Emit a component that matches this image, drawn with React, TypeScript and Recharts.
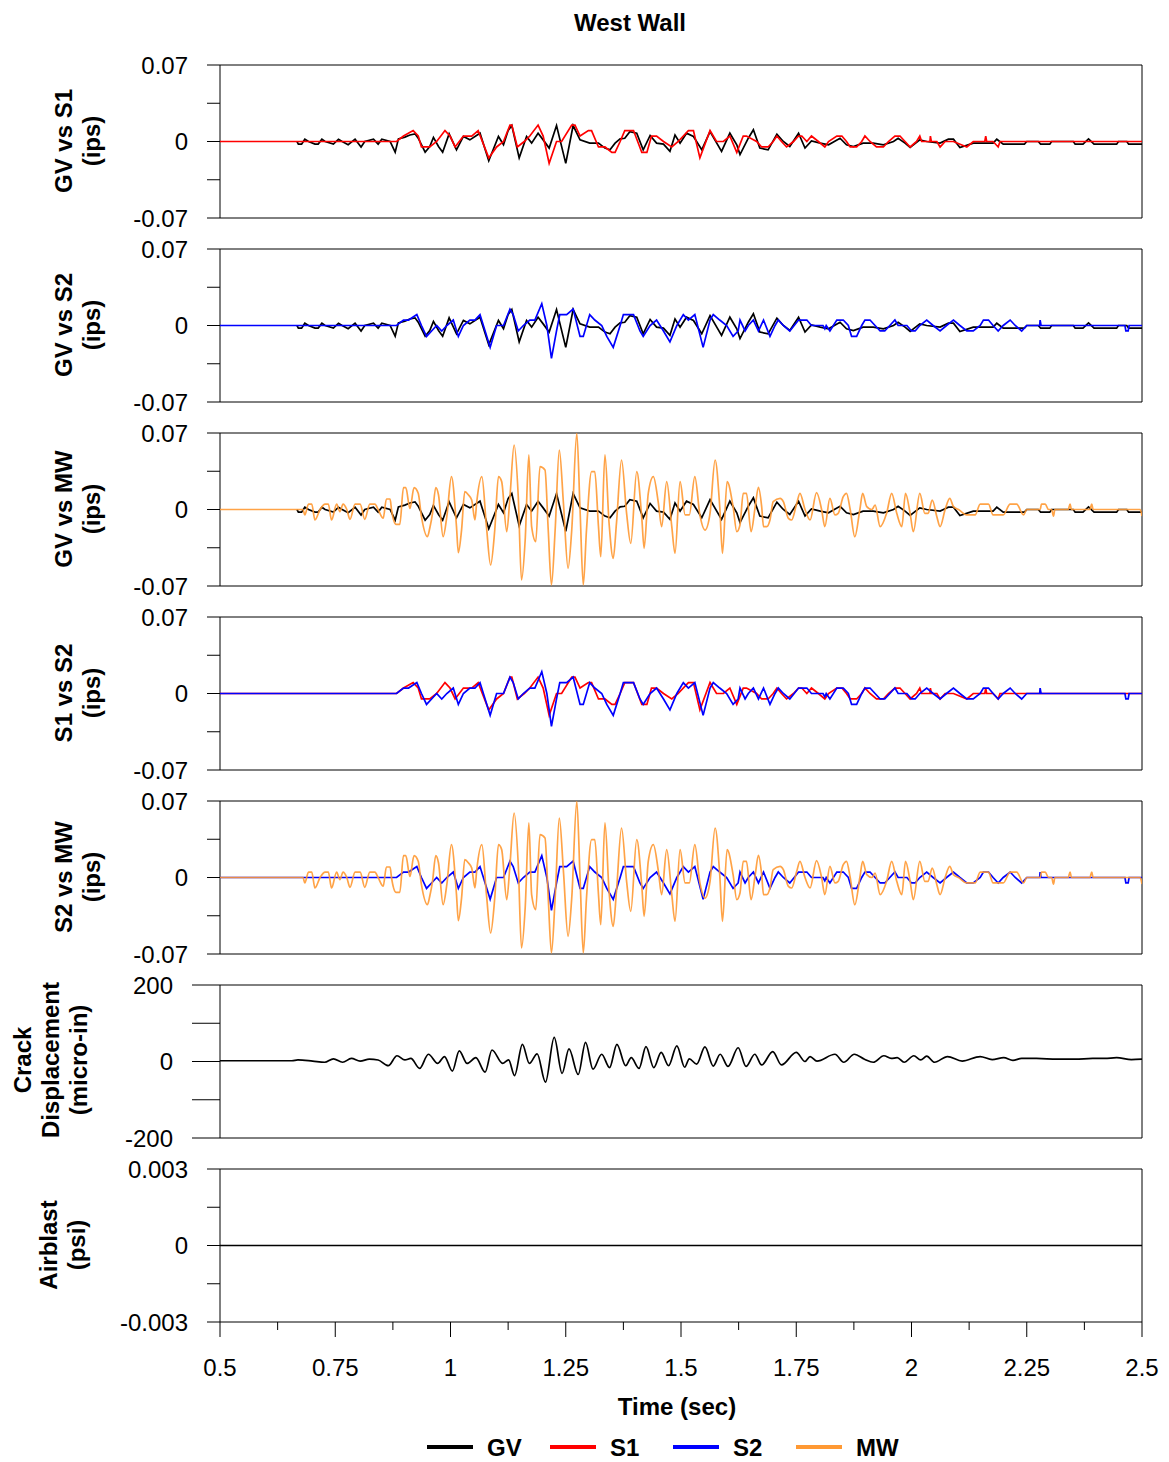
import React from "react";
import { LineChart, Line, XAxis, YAxis, ReferenceArea } from "recharts";

const FONT = '"Liberation Sans", Arial, sans-serif';

type Pt = [number, number];

// [time (sec), value] pairs
const gvTrace: Pt[] = [
  [0.667, 0], [0.67, -0.0024], [0.677, -0.0024], [0.684, 0.0021], [0.692, 0], [0.706, -0.0024], [0.713, -0.0024],
  [0.721, 0.0021], [0.728, 0], [0.746, -0.0024], [0.757, 0.0021], [0.765, 0], [0.778, -0.003], [0.793, 0.0021],
  [0.806, -0.005], [0.814, 0], [0.833, 0.0021], [0.843, -0.0024], [0.851, 0.0021], [0.869, 0], [0.88, -0.0098],
  [0.887, 0.0024], [0.901, 0.004], [0.912, 0.006], [0.923, 0.007], [0.93, 0.003], [0.945, -0.0098], [0.955, -0.0046],
  [0.963, 0.0037], [0.974, -0.0046], [0.983, -0.0098], [0.997, 0.007], [1.013, -0.0076], [1.028, 0.0046],
  [1.042, 0.0015], [1.064, 0.0076], [1.083, -0.0177], [1.104, 0.0046], [1.115, -0.003], [1.125, 0.01],
  [1.133, 0.0146], [1.149, -0.015], [1.165, 0.0046], [1.176, -0.0015], [1.19, 0.0076], [1.201, 0.0015],
  [1.214, -0.006], [1.23, 0.0146], [1.25, -0.02], [1.266, 0.0146], [1.281, 0.0015], [1.302, -0.0015],
  [1.321, -0.0015], [1.335, -0.006], [1.346, -0.0076], [1.357, -0.0015], [1.368, 0.0024], [1.378, 0.003],
  [1.389, 0.009], [1.404, 0.0076], [1.418, -0.0076], [1.433, 0.0055], [1.447, -0.0015], [1.462, -0.0024],
  [1.476, -0.009], [1.487, 0.006], [1.498, -0.0015], [1.512, 0.0076], [1.527, 0.0046], [1.545, -0.0076],
  [1.563, 0.009], [1.588, -0.009], [1.606, 0.0076], [1.621, -0.003], [1.628, -0.012], [1.646, 0.003],
  [1.657, 0.0107], [1.671, -0.006], [1.689, -0.0076], [1.708, 0.0067], [1.722, 0], [1.736, -0.0046],
  [1.755, 0.0076], [1.769, -0.006], [1.783, 0.0006], [1.802, -0.0015], [1.82, -0.003], [1.845, 0.003],
  [1.859, -0.003], [1.874, -0.0046], [1.895, -0.0015], [1.917, -0.0015], [1.939, -0.003], [1.961, 0],
  [1.971, 0.003], [1.986, -0.0015], [1.997, -0.0055], [2.018, 0.0015], [2.033, 0], [2.062, -0.0015],
  [2.08, 0.0021], [2.091, 0.0021], [2.105, -0.0055], [2.134, -0.0015], [2.177, -0.0015], [2.185, 0.0021],
  [2.199, -0.0024], [2.245, -0.0024], [2.25, 0], [2.275, 0], [2.28, -0.0024], [2.3, -0.0024], [2.304, 0],
  [2.351, 0], [2.355, -0.0024], [2.372, -0.0024], [2.384, 0.0024], [2.396, -0.0024], [2.445, -0.0024],
  [2.449, 0], [2.467, 0], [2.471, -0.0024], [2.5, -0.0024],
];

const s1Trace: Pt[] = [
  [0.5, 0], [0.883, 0], [0.898, 0.005], [0.919, 0.01], [0.93, 0.005], [0.937, -0.005], [0.955, -0.005],
  [0.97, 0], [0.988, 0.01], [0.999, 0.005], [1.01, -0.005], [1.028, 0.005], [1.046, 0.005], [1.06, 0.01],
  [1.083, -0.015], [1.1, -0.005], [1.115, 0], [1.129, 0.015], [1.133, 0.015], [1.145, -0.005], [1.16, 0],
  [1.172, 0.005], [1.19, 0.015], [1.201, 0.005], [1.214, -0.02], [1.23, 0], [1.241, 0], [1.263, 0.015],
  [1.27, 0.015], [1.281, 0.005], [1.299, 0.01], [1.306, 0.01], [1.321, -0.005], [1.335, -0.005], [1.35, -0.01],
  [1.357, -0.01], [1.368, 0], [1.378, 0.01], [1.397, 0.01], [1.415, -0.01], [1.426, -0.01], [1.436, 0.005],
  [1.447, 0.005], [1.462, 0], [1.48, -0.005], [1.494, 0], [1.516, 0.01], [1.527, 0.01], [1.541, -0.015],
  [1.563, 0.01], [1.577, 0], [1.592, 0], [1.606, 0.005], [1.621, -0.01], [1.635, 0.005], [1.642, 0.005],
  [1.664, 0], [1.675, -0.005], [1.689, -0.005], [1.7, 0], [1.708, 0.005], [1.718, 0], [1.729, -0.005],
  [1.744, 0], [1.755, 0.005], [1.762, 0.005], [1.773, 0], [1.783, 0.005], [1.798, 0], [1.812, -0.005],
  [1.82, 0], [1.838, 0.005], [1.849, 0.005], [1.859, 0], [1.867, -0.005], [1.881, -0.005], [1.892, 0],
  [1.899, 0.005], [1.91, 0], [1.924, -0.005], [1.939, -0.005], [1.95, 0], [1.964, 0.005], [1.975, 0.005],
  [1.986, 0], [1.997, -0.005], [2.011, 0], [2.018, 0.005], [2.022, 0], [2.04, 0], [2.041, 0.005], [2.043, 0],
  [2.055, 0], [2.062, -0.005], [2.073, 0], [2.091, 0], [2.12, -0.005], [2.134, 0], [2.159, 0], [2.161, 0.005],
  [2.163, 0], [2.177, 0], [2.188, -0.005], [2.192, 0], [2.5, 0],
];

const s2Trace: Pt[] = [
  [0.5, 0], [0.883, 0], [0.898, 0.005], [0.909, 0.005], [0.927, 0.01], [0.937, 0], [0.948, -0.01],
  [0.959, -0.005], [0.97, 0], [0.981, -0.005], [0.992, 0], [1.006, 0.005], [1.017, -0.01], [1.028, 0],
  [1.042, 0.005], [1.053, 0.005], [1.064, 0.01], [1.086, -0.02], [1.1, 0], [1.115, 0], [1.129, 0.015],
  [1.136, 0.01], [1.147, -0.005], [1.158, 0], [1.172, 0.005], [1.183, 0.005], [1.198, 0.02], [1.209, 0],
  [1.219, -0.03], [1.23, -0.005], [1.237, 0.01], [1.252, 0.01], [1.266, 0.015], [1.281, -0.01], [1.288, -0.01],
  [1.302, 0.01], [1.313, 0.005], [1.328, 0], [1.339, -0.01], [1.353, -0.02], [1.368, 0], [1.375, 0.01],
  [1.397, 0.01], [1.411, -0.005], [1.418, -0.01], [1.433, 0], [1.447, 0.005], [1.462, -0.005], [1.476, -0.015],
  [1.491, 0], [1.505, 0.01], [1.516, 0.005], [1.53, 0.01], [1.548, -0.02], [1.563, 0.005], [1.57, 0.01],
  [1.584, 0.005], [1.599, 0], [1.613, -0.01], [1.624, -0.005], [1.628, 0.005], [1.639, -0.005], [1.646, 0],
  [1.657, 0.005], [1.668, -0.005], [1.679, 0.005], [1.693, -0.01], [1.704, 0], [1.711, 0.005], [1.722, 0],
  [1.736, -0.005], [1.755, 0.005], [1.773, 0.005], [1.783, 0], [1.808, 0], [1.812, -0.003], [1.815, 0],
  [1.823, -0.005], [1.838, 0.005], [1.852, 0.005], [1.863, 0], [1.87, -0.01], [1.881, -0.01], [1.892, 0],
  [1.899, 0.005], [1.91, 0.005], [1.921, 0], [1.932, -0.005], [1.942, -0.005], [1.953, 0], [1.964, 0.005],
  [1.971, 0], [1.99, 0], [2.0, -0.005], [2.008, -0.005], [2.018, 0], [2.033, 0.005], [2.047, 0], [2.062, -0.005],
  [2.076, 0], [2.091, 0.005], [2.105, 0], [2.12, -0.005], [2.134, -0.005], [2.149, 0], [2.156, 0.005],
  [2.167, 0.005], [2.177, 0], [2.188, -0.005], [2.199, 0], [2.214, 0.005], [2.225, 0], [2.239, -0.005],
  [2.25, 0], [2.278, 0], [2.279, 0.005], [2.281, 0], [2.463, 0], [2.465, -0.005], [2.47, -0.005], [2.472, 0],
  [2.5, 0],
];

const mwTrace: Pt[] = [
  [0.5, 0], [0.68, 0], [0.684, -0.005], [0.692, 0.005], [0.699, 0.005], [0.706, -0.0096], [0.717, 0],
  [0.728, 0.005], [0.735, 0.005], [0.742, -0.0096], [0.753, 0.005], [0.76, -0.002], [0.767, 0.005], [0.775, 0],
  [0.782, -0.009], [0.793, 0.005], [0.804, 0.005], [0.814, -0.009], [0.825, 0.005], [0.836, 0.005], [0.843, 0],
  [0.854, -0.008], [0.861, 0.0096], [0.869, 0.0096], [0.872, 0], [0.882, -0.0136], [0.89, -0.0136], [0.898, 0.02],
  [0.903, 0.02], [0.912, 0.001], [0.921, 0.02], [0.93, 0.0148], [0.937, -0.0066], [0.95, -0.0249], [0.955, -0.0172],
  [0.961, -0.0035], [0.968, 0.02], [0.974, 0.0133], [0.984, -0.0249], [0.992, -0.0066], [1.002, 0.03],
  [1.013, -0.0157], [1.017, -0.0395], [1.024, -0.0188], [1.031, 0.0163], [1.039, 0.0133], [1.046, 0.0087],
  [1.053, -0.0096], [1.057, 0.0072], [1.068, 0.03], [1.078, -0.0157], [1.087, -0.0508], [1.096, -0.0188],
  [1.104, 0.03], [1.111, 0.0255], [1.122, -0.0203], [1.129, 0.0117], [1.138, 0.059], [1.147, 0.0117],
  [1.154, -0.0645], [1.162, -0.0279], [1.17, 0.0499], [1.176, -0.0157], [1.185, -0.0294], [1.194, 0.0392],
  [1.205, 0.0361], [1.212, -0.0188], [1.219, -0.069], [1.227, -0.0188], [1.236, 0.0544], [1.245, 0.0056],
  [1.255, -0.0538], [1.263, -0.0188], [1.274, 0.0697], [1.281, 0], [1.288, -0.069], [1.295, -0.0188],
  [1.306, 0.0346], [1.313, 0.0346], [1.321, -0.0157], [1.326, -0.0432], [1.335, 0.0499], [1.344, -0.0127],
  [1.353, -0.0447], [1.36, -0.0127], [1.371, 0.0453], [1.382, -0.0035], [1.391, -0.031], [1.404, 0.0346],
  [1.415, -0.0081], [1.42, -0.0355], [1.429, 0.0148], [1.44, 0.03], [1.451, 0.0056], [1.458, -0.0157],
  [1.469, 0.0255], [1.48, -0.0157], [1.487, -0.0401], [1.498, 0.0255], [1.509, -0.005], [1.518, -0.005],
  [1.53, 0.03], [1.541, -0.005], [1.552, -0.0188], [1.563, -0.0035], [1.574, 0.0453], [1.584, 0.0026],
  [1.59, -0.0401], [1.6, 0.0255], [1.613, 0.0026], [1.621, -0.0203], [1.628, -0.0142], [1.635, 0.0148],
  [1.642, 0.0148], [1.652, -0.0203], [1.661, 0.0026], [1.668, 0.0203], [1.675, 0.0026], [1.679, -0.0157],
  [1.686, -0.0157], [1.693, -0.0096], [1.7, 0.0072], [1.715, 0.0102], [1.722, 0.0072], [1.733, -0.0081],
  [1.74, -0.0096], [1.751, 0.0056], [1.758, 0.0148], [1.769, 0], [1.78, -0.0096], [1.794, 0.0154], [1.805, 0],
  [1.812, -0.0157], [1.823, 0.0102], [1.834, -0.005], [1.841, -0.0035], [1.852, 0.0117], [1.859, 0.0148],
  [1.867, 0], [1.877, -0.0249], [1.888, 0], [1.894, 0.0148], [1.903, 0.0026], [1.914, 0], [1.921, 0.0041],
  [1.932, -0.0157], [1.946, -0.0035], [1.957, 0.0148], [1.968, -0.0035], [1.979, -0.0157], [1.987, 0.0148],
  [1.997, -0.0035], [2.004, -0.0203], [2.018, 0.0148], [2.029, -0.0035], [2.036, -0.0035], [2.045, 0.0087],
  [2.055, -0.0066], [2.062, -0.0157], [2.073, 0], [2.083, 0.0102], [2.091, 0.0026], [2.102, 0], [2.12, -0.005],
  [2.138, -0.005], [2.149, 0.005], [2.167, 0.005], [2.177, -0.005], [2.199, -0.005], [2.214, 0.005],
  [2.228, 0.005], [2.243, -0.005], [2.25, 0], [2.279, 0], [2.282, 0.005], [2.29, 0.005], [2.297, 0], [2.304, 0],
  [2.308, -0.006], [2.311, 0], [2.34, 0], [2.344, 0.005], [2.347, 0], [2.387, 0], [2.391, 0.005], [2.394, 0],
  [2.496, 0], [2.5, -0.006],
];

const crackTrace: Pt[] = [
  [0.5, 2], [0.656, 2], [0.669, 4], [0.701, 1], [0.727, -2], [0.746, 7], [0.766, -2], [0.785, 8], [0.804, 1],
  [0.824, 6], [0.843, 4], [0.865, -11], [0.884, 15], [0.901, 4], [0.914, 8], [0.933, -18], [0.952, 19],
  [0.972, -5], [0.987, 13], [1.004, -25], [1.019, 28], [1.036, -5], [1.055, 10], [1.075, -28], [1.09, 30],
  [1.113, -5], [1.126, 4], [1.139, -37], [1.156, 45], [1.171, -5], [1.188, 20], [1.206, -54], [1.225, 63],
  [1.242, -31], [1.257, 33], [1.277, -34], [1.293, 50], [1.309, -20], [1.328, 19], [1.345, -16], [1.361, 45],
  [1.38, -11], [1.392, 10], [1.409, -18], [1.424, 39], [1.441, -16], [1.457, 24], [1.473, -11], [1.491, 41],
  [1.508, -15], [1.518, 7], [1.534, -7], [1.552, 38], [1.57, -12], [1.585, 19], [1.602, -13], [1.624, 36],
  [1.641, -13], [1.66, 19], [1.675, -9], [1.699, 26], [1.718, -9], [1.75, 24], [1.769, 0], [1.78, 13],
  [1.795, 1], [1.834, 19], [1.853, -2], [1.876, 19], [1.898, 6], [1.917, -2], [1.94, 15], [1.956, 8],
  [1.969, 10], [1.984, -2], [2.005, 15], [2.02, 4], [2.033, 14], [2.05, -2], [2.078, 13], [2.11, 1],
  [2.149, 13], [2.175, 5], [2.2, 10], [2.22, 3], [2.239, 8], [2.271, 8], [2.316, 6], [2.355, 6], [2.393, 8],
  [2.419, 8], [2.445, 10], [2.477, 5], [2.5, 6],
];

const airblastTrace: Pt[] = [[0.5, 0], [2.5, 0]];

const velTicks = [-0.07, -0.035, 0, 0.035, 0.07];
const velLabels = [-0.07, 0, 0.07];
const crackTicks = [-200, -100, 0, 100, 200];
const crackLabels = [-200, 0, 200];
const airTicks = [-0.003, -0.0015, 0, 0.0015, 0.003];
const airLabels = [-0.003, 0, 0.003];
const timeTicks = [0.5, 0.625, 0.75, 0.875, 1, 1.125, 1.25, 1.375, 1.5, 1.625, 1.75, 1.875, 2, 2.125, 2.25, 2.375, 2.5];
const timeLabels = [0.5, 0.75, 1, 1.25, 1.5, 1.75, 2, 2.25, 2.5];

const COLORS: Record<string, string> = { GV: "#000000", S1: "#FF0000", S2: "#0000FF", MW: "#FF9933", CR: "#000000" };
const legendNames = ["GV", "S1", "S2", "MW"];

const toRows = (pts: Pt[]) => pts.map(([t, v]) => ({ t, v }));

type Series = { key: string; pts: Pt[]; curve: "linear" | "monotone" };

const PLOT_H = 153;
const TIME_GAP = 45;

function ValueTick(props: any) {
  const { x, y, payload, labels } = props;
  if (!labels.includes(payload.value)) return <g />;
  return (
    <text x={x} y={y} textAnchor="end" dominantBaseline="central" fontFamily={FONT} fontSize={24} fill="#000">
      {String(payload.value)}
    </text>
  );
}

function TimeTick(props: any) {
  const { x, y, payload } = props;
  const major = timeLabels.includes(payload.value);
  const axisY = y - TIME_GAP;
  return (
    <g>
      <line x1={x} x2={x} y1={axisY} y2={axisY + (major ? 15 : 8)} stroke="#000" strokeWidth={1} />
      {major && (
        <text x={x} y={y} textAnchor="middle" dominantBaseline="central" fontFamily={FONT} fontSize={24} fill="#000">
          {String(payload.value)}
        </text>
      )}
    </g>
  );
}

function Panel({
  top, series, domain, ticks, labels, tickLen = 13, labelGap = 19, showTime = false,
}: {
  top: number; series: Series[]; domain: [number, number]; ticks: number[]; labels: number[];
  tickLen?: number; labelGap?: number; showTime?: boolean;
}) {
  const mTop = 16;
  const mBottom = 16;
  const axisH = showTime ? 70 : 0;
  const h = mTop + PLOT_H + axisH + mBottom;
  return (
    <div style={{ position: "absolute", left: 0, top: top - mTop, width: 1169, height: h }}>
      <LineChart width={1169} height={h} margin={{ top: mTop, right: 27, bottom: mBottom, left: 160 }}>
        <XAxis
          dataKey="t" type="number" domain={[0.5, 2.5]} allowDataOverflow ticks={timeTicks} interval={0}
          hide={!showTime} height={axisH} axisLine={false} tickLine={false} tickSize={0} tickMargin={TIME_GAP}
          tick={(p: any) => <TimeTick {...p} />}
        />
        <YAxis
          type="number" domain={domain} allowDataOverflow ticks={ticks} interval={0} width={60}
          axisLine={false} stroke="#000" tickLine={{ stroke: "#000" }} tickSize={tickLen} tickMargin={labelGap}
          tick={(p: any) => <ValueTick {...p} labels={labels} />}
        />
        <ReferenceArea x1={0.5} x2={2.5} y1={domain[0]} y2={domain[1]} fill="#fff" fillOpacity={0} stroke="#000" strokeWidth={1} />
        {series.map((s) => (
          <Line
            key={s.key}
            data={toRows(s.pts)}
            dataKey="v"
            type={s.curve}
            stroke={COLORS[s.key]}
            strokeOpacity={s.key === "MW" ? 0.9 : 1}
            strokeWidth={1.7}
            dot={false}
            activeDot={false}
            isAnimationActive={false}
          />
        ))}
      </LineChart>
    </div>
  );
}

const velPanels: { top: number; title: string; series: Series[] }[] = [
  { top: 65, title: "GV vs S1", series: [{ key: "GV", pts: gvTrace, curve: "linear" }, { key: "S1", pts: s1Trace, curve: "linear" }] },
  { top: 249, title: "GV vs S2", series: [{ key: "GV", pts: gvTrace, curve: "linear" }, { key: "S2", pts: s2Trace, curve: "linear" }] },
  { top: 433, title: "GV vs MW", series: [{ key: "GV", pts: gvTrace, curve: "linear" }, { key: "MW", pts: mwTrace, curve: "monotone" }] },
  { top: 617, title: "S1 vs S2", series: [{ key: "S1", pts: s1Trace, curve: "linear" }, { key: "S2", pts: s2Trace, curve: "linear" }] },
  { top: 801, title: "S2 vs MW", series: [{ key: "S2", pts: s2Trace, curve: "linear" }, { key: "MW", pts: mwTrace, curve: "monotone" }] },
];

function RotLabel({ x, y, text }: { x: number; y: number; text: string }) {
  return (
    <text
      transform={`translate(${x},${y}) rotate(-90)`}
      textAnchor="middle" dominantBaseline="central"
      fontFamily={FONT} fontSize={24} fontWeight="bold" fill="#000"
    >
      {text}
    </text>
  );
}

export default function App() {
  return (
    <div style={{ position: "absolute", left: 0, top: 0, width: 1169, height: 1462, background: "#fff", overflow: "hidden" }}>
      {velPanels.map((p) => (
        <Panel key={p.title} top={p.top} series={p.series} domain={[-0.07, 0.07]} ticks={velTicks} labels={velLabels} />
      ))}
      <Panel
        top={985} series={[{ key: "CR", pts: crackTrace, curve: "monotone" }]}
        domain={[-200, 200]} ticks={crackTicks} labels={crackLabels} tickLen={28} labelGap={19}
      />
      <Panel
        top={1169} series={[{ key: "CR", pts: airblastTrace, curve: "linear" }]}
        domain={[-0.003, 0.003]} ticks={airTicks} labels={airLabels} showTime
      />
      <svg width={1169} height={1462} style={{ position: "absolute", left: 0, top: 0, pointerEvents: "none" }}>
        <text x={630} y={22} textAnchor="middle" dominantBaseline="central" fontFamily={FONT} fontSize={24} fontWeight="bold">
          West Wall
        </text>
        {velPanels.map((p) => (
          <g key={p.title}>
            <RotLabel x={63} y={p.top + 76} text={p.title} />
            <RotLabel x={91} y={p.top + 76} text="(ips)" />
          </g>
        ))}
        <RotLabel x={22} y={1060} text="Crack" />
        <RotLabel x={50} y={1060} text="Displacement" />
        <RotLabel x={78} y={1060} text="(micro-in)" />
        <RotLabel x={48} y={1245} text="Airblast" />
        <RotLabel x={76} y={1245} text="(psi)" />
        <text x={677} y={1406} textAnchor="middle" dominantBaseline="central" fontFamily={FONT} fontSize={24} fontWeight="bold">
          Time (sec)
        </text>
        {legendNames.map((name, i) => (
          <g key={name}>
            <line x1={427 + i * 123} x2={473 + i * 123} y1={1447} y2={1447} stroke={COLORS[name]} strokeWidth={4} />
            <text x={487 + i * 123} y={1447} dominantBaseline="central" fontFamily={FONT} fontSize={24} fontWeight="bold">
              {name}
            </text>
          </g>
        ))}
      </svg>
    </div>
  );
}
